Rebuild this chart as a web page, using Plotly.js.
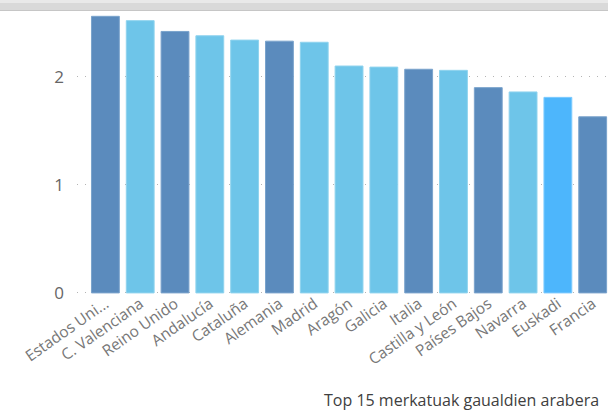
<!DOCTYPE html>
<html>
<head>
<meta charset="utf-8">
<script src="https://cdn.plot.ly/plotly-3.0.1.min.js"></script>
<style>
  html, body { margin:0; padding:0; background:#fff; overflow:hidden; }
  #wrap { position:relative; width:608px; height:413px; }
  #chart { position:absolute; left:0; top:0; width:608px; height:413px; }
  #strip { position:absolute; left:0; top:0; width:608px; height:11px; background:#d9d9d9; border-top:3px solid #e9e9e9; box-sizing:border-box; border-bottom:1px solid #c6c6c6; z-index:5; }
</style>
</head>
<body>
<div id="wrap">
  <div id="chart"></div>
  <div id="strip"></div>
</div>
<script>
// Data
const categories = ["Estados Unidos","C. Valenciana","Reino Unido","Andalucía","Cataluña","Alemania","Madrid","Aragón","Galicia","Italia","Castilla y León","Países Bajos","Navarra","Euskadi","Francia"];
const tickLabels = ["Estados Uni...","C. Valenciana","Reino Unido","Andalucía","Cataluña","Alemania","Madrid","Aragón","Galicia","Italia","Castilla y León","Países Bajos","Navarra","Euskadi","Francia"];
const values = [2.56, 2.52, 2.42, 2.38, 2.34, 2.33, 2.32, 2.10, 2.09, 2.07, 2.06, 1.90, 1.86, 1.81, 1.63];
const kind = ["country","region","country","region","region","country","region","region","region","country","region","country","region","home","country"];
const yTicks = [0, 1, 2];
const chartTitle = "Top 15 merkatuak gaualdien arabera";

const palette = { country: "#5b8bbd", region: "#6ec5e9", home: "#4db6fc" };
const edge = { country: "#7aa3cc", region: "#8fd3ee", home: "#7ccaff" };

const trace = {
  type: "bar",
  x: categories,
  y: values,
  marker: {
    color: kind.map(k => palette[k]),
    line: { color: kind.map(k => edge[k]), width: 1 }
  },
  hoverinfo: "x+y"
};

const layout = {
  width: 608, height: 413,
  margin: { l: 77, r: 0, t: 12, b: 119, pad: 0 },
  paper_bgcolor: "#ffffff", plot_bgcolor: "#ffffff",
  bargap: 0.2,
  showlegend: false,
  font: { family: "Open Sans, DejaVu Sans, sans-serif", color: "#666666" },
  xaxis: {
    type: "category",
    range: [-0.816, 14.44],
    tickmode: "array", tickvals: categories, ticktext: tickLabels,
    tickangle: -35,
    tickfont: { size: 15.5, color: "#777777" },
    ticks: "", ticklabelstandoff: -3,
    showgrid: false, zeroline: false, showline: false,
    automargin: false
  },
  yaxis: {
    range: [-0.01, 2.6],
    tickmode: "array", tickvals: yTicks, ticktext: yTicks.map(String),
    tickfont: { size: 17, color: "#666666" },
    ticks: "", ticklabelstandoff: 12,
    showgrid: true, gridcolor: "#b4b4b4", gridwidth: 1, griddash: "1px,7px",
    zeroline: false, showline: false, automargin: false
  },
  annotations: [{
    text: chartTitle,
    xref: "paper", yref: "paper",
    x: 0.984, y: -0.375, xanchor: "right", yanchor: "middle",
    showarrow: false, borderpad: 0,
    font: { size: 16, color: "#404040", family: "Open Sans, DejaVu Sans, sans-serif" }
  }]
};

Plotly.newPlot("chart", [trace], layout, { displayModeBar: false, staticPlot: true });
</script>
</body>
</html>
